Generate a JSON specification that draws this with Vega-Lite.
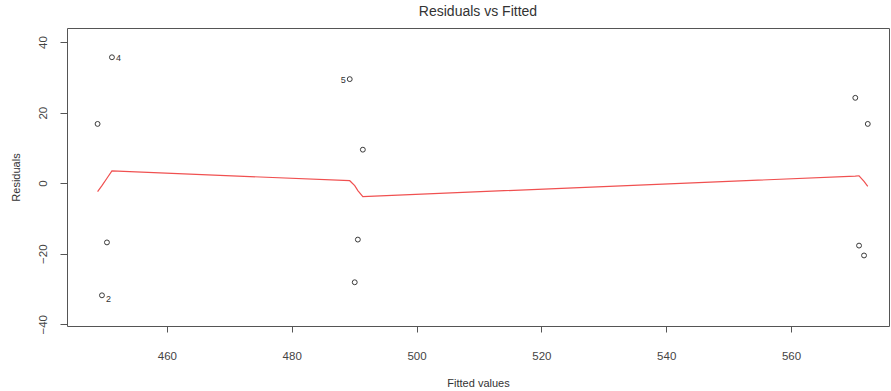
{
  "$schema": "https://vega.github.io/schema/vega-lite/v6.json",
  "width": 822,
  "height": 298,
  "autosize": {"type": "none"},
  "padding": {"left": 67, "top": 28, "right": 2, "bottom": 65},
  "background": "white",
  "config": {
    "font": "Liberation Sans",
    "view": {"stroke": "#555555", "strokeWidth": 1},
    "axis": {"grid": false, "domain": false, "tickColor": "#555555", "labelColor": "#444444", "titleColor": "#333333", "labelFontSize": 11.5, "titleFontSize": 11, "titleFontWeight": "normal", "labelFont": "Liberation Sans", "titleFont": "Liberation Sans"}
  },
  "title": {"text": "Residuals vs Fitted", "fontSize": 14, "fontWeight": "normal", "color": "#333333", "offset": 9, "anchor": "middle", "font": "Liberation Sans"},
  "datasets": {
    "pts": [
      {"fitted": 448.9, "resid": 16.8, "label": ""},
      {"fitted": 449.6, "resid": -31.8, "label": "2"},
      {"fitted": 450.4, "resid": -16.8, "label": ""},
      {"fitted": 451.2, "resid": 35.7, "label": "4"},
      {"fitted": 489.3, "resid": 29.5, "label": "5"},
      {"fitted": 490.1, "resid": -28.1, "label": ""},
      {"fitted": 490.6, "resid": -16.0, "label": ""},
      {"fitted": 491.4, "resid": 9.5, "label": ""},
      {"fitted": 570.3, "resid": 24.2, "label": ""},
      {"fitted": 570.9, "resid": -17.7, "label": ""},
      {"fitted": 571.7, "resid": -20.5, "label": ""},
      {"fitted": 572.3, "resid": 16.8, "label": ""}
    ],
    "smooth": [
      {"fitted": 448.9, "fit": -2.4},
      {"fitted": 449.6, "fit": -0.7},
      {"fitted": 450.4, "fit": 1.4},
      {"fitted": 451.2, "fit": 3.5},
      {"fitted": 489.3, "fit": 0.7},
      {"fitted": 490.1, "fit": -0.7},
      {"fitted": 490.6, "fit": -2.1},
      {"fitted": 491.4, "fit": -3.8},
      {"fitted": 570.3, "fit": 2.0},
      {"fitted": 570.9, "fit": 2.1},
      {"fitted": 571.7, "fit": 0.5},
      {"fitted": 572.3, "fit": -0.9}
    ]
  },
  "layer": [
    {
      "mark": {"type": "rule", "color": "#a9afba", "strokeDash": [1, 3], "strokeWidth": 1},
      "encoding": {"y": {"datum": 0, "type": "quantitative", "scale": {"domain": [-40.5, 44.0], "nice": false, "zero": false}}}
    },
    {
      "data": {"name": "smooth"},
      "mark": {"type": "line", "color": "#f05050", "strokeWidth": 1.2},
      "encoding": {
        "x": {"field": "fitted", "type": "quantitative"},
        "y": {"field": "fit", "type": "quantitative"}
      }
    },
    {
      "data": {"name": "pts"},
      "mark": {"type": "point", "shape": "circle", "filled": false, "size": 24, "stroke": "#3a3a3a", "strokeWidth": 1, "opacity": 1},
      "encoding": {
        "x": {"field": "fitted", "type": "quantitative", "scale": {"domain": [444.0, 575.7], "nice": false, "zero": false},
          "axis": {"title": "Fitted values", "values": [460, 480, 500, 520, 540, 560], "tickSize": 6, "labelPadding": 18, "titlePadding": 16}},
        "y": {"field": "resid", "type": "quantitative", "scale": {"domain": [-40.5, 44.0], "nice": false, "zero": false},
          "axis": {"title": "Residuals", "values": [-40, -20, 0, 20, 40], "tickSize": 7, "labelAngle": 270, "labelAlign": "center", "labelBaseline": "bottom", "labelPadding": 12, "titlePadding": 16}}
      }
    },
    {
      "data": {"name": "pts"},
      "transform": [{"filter": "datum.label == '4'"}],
      "mark": {"type": "text", "align": "left", "dx": 4, "dy": 1, "fontSize": 9, "color": "#333333"},
      "encoding": {
        "x": {"field": "fitted", "type": "quantitative"},
        "y": {"field": "resid", "type": "quantitative"},
        "text": {"field": "label"}
      }
    },
    {
      "data": {"name": "pts"},
      "transform": [{"filter": "datum.label == '2'"}],
      "mark": {"type": "text", "align": "left", "dx": 4, "dy": 4, "fontSize": 9, "color": "#333333"},
      "encoding": {
        "x": {"field": "fitted", "type": "quantitative"},
        "y": {"field": "resid", "type": "quantitative"},
        "text": {"field": "label"}
      }
    },
    {
      "data": {"name": "pts"},
      "transform": [{"filter": "datum.label == '5'"}],
      "mark": {"type": "text", "align": "right", "dx": -4, "dy": 1, "fontSize": 9, "color": "#333333"},
      "encoding": {
        "x": {"field": "fitted", "type": "quantitative"},
        "y": {"field": "resid", "type": "quantitative"},
        "text": {"field": "label"}
      }
    }
  ],
  "resolve": {"scale": {"x": "shared", "y": "shared"}}
}
